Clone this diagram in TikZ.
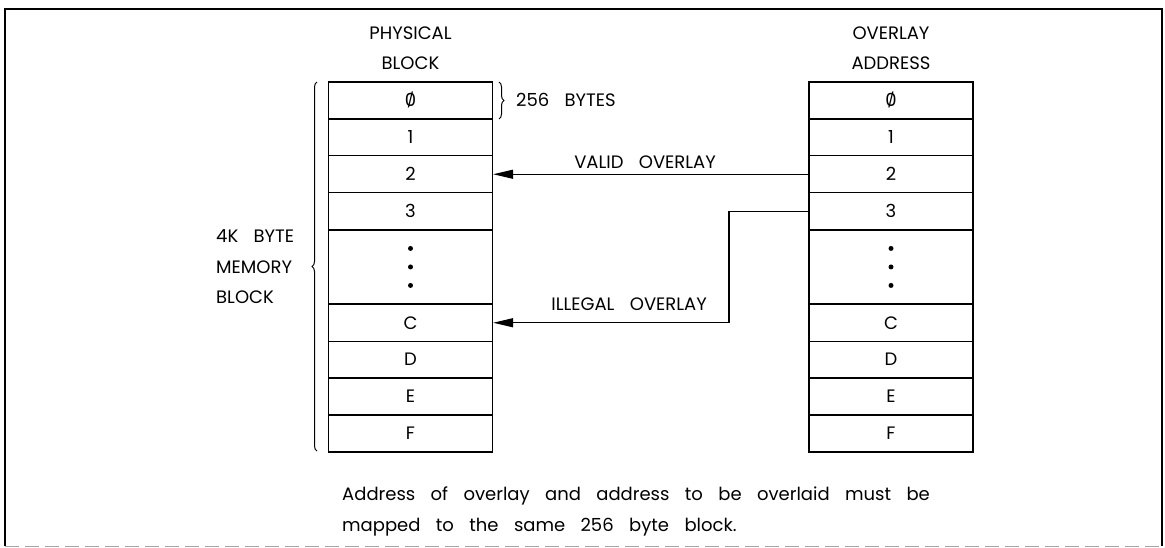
\documentclass[tikz,border=0pt]{standalone}
\usepackage{fontspec}
\setmainfont{Poppins}[WordSpace=3.2]
\usepackage{tikz}
\usetikzlibrary{positioning, arrows.meta, calc, decorations.pathreplacing}
\newcommand{\slzero}{\ooalign{0\cr\hidewidth\raisebox{0.15ex}{\scalebox{0.8}{/}}\hidewidth\cr}}

\begin{document}
\begin{tikzpicture}[x=1pt, y=-1pt,
    cell/.style={draw, line width=1.3pt, minimum width=164pt, minimum height=36.9pt,
                 inner sep=0pt, font=\fontsize{18}{20}\selectfont},
    lbl/.style={font=\fontsize{18}{30.5}\selectfont, inner sep=0pt},
    arr/.style={-{Triangle[length=20pt, width=9pt]}, line width=1.2pt},
    brc/.style={decorate, decoration={brace, amplitude=5pt}, line width=1pt},
]
\useasboundingbox (0,0) rectangle (1165,548);

% frame
\draw[line width=1.4pt] (5,546) -- (5,9) -- (1162,9) -- (1162,546);
\draw[line width=0.8pt, black!35, dash pattern=on 14pt off 6pt] (5,546) -- (1162,546);

% physical block column
\node[cell] (p0) at (410.5, 100.45) {\slzero};
\node[cell] (p1) at (410.5, 137.35) {1};
\node[cell] (p2) at (410.5, 174.25) {2};
\node[cell] (p3) at (410.5, 211.15) {3};
\node[cell, minimum height=73.8pt] (pd) at (410.5, 266.95) {};
\node[cell] (pC) at (410.5, 322.75) {C};
\node[cell] (pD) at (410.5, 359.65) {D};
\node[cell] (pE) at (410.5, 396.55) {E};
\node[cell] (pF) at (410.5, 433.45) {F};

% overlay address column
\node[cell] (o0) at (891, 100.45) {\slzero};
\node[cell] (o1) at (891, 137.35) {1};
\node[cell] (o2) at (891, 174.25) {2};
\node[cell] (o3) at (891, 211.15) {3};
\node[cell, minimum height=73.8pt] (od) at (891, 266.95) {};
\node[cell] (oC) at (891, 322.75) {C};
\node[cell] (oD) at (891, 359.65) {D};
\node[cell] (oE) at (891, 396.55) {E};
\node[cell] (oF) at (891, 433.45) {F};

\foreach \c in {pd, od} {
  \foreach \dy in {-18.5, 0, 18.5}
    \fill ($(\c.center)+(0,\dy)$) circle (2.5pt);
}

% headings
\node[lbl] (phys) at (410.5, 33) {PHYSICAL};
\node[lbl] (blk)  at (410.5, 63) {BLOCK};
\node[lbl] (ovl)  at (891, 33) {OVERLAY};
\node[lbl] (adr)  at (891, 63) {ADDRESS};

% braces
\draw[brc] (317, 451) -- (317, 82);
\draw[brc] (499, 82) -- (499, 119);
\node[lbl, anchor=west] (bytes) at (516, 100) {256 BYTES};
\node[lbl, anchor=west, align=left] (mem) at (216, 267) {4K BYTE\\MEMORY\\BLOCK};

% overlays
\draw[arr] (o2.west) -- (p2.east);
\node[lbl, anchor=east] (valid) at (716, 162.5) {VALID OVERLAY};
\coordinate (bend) at (729, 211.15);
\draw[arr] (o3.west) -- (bend) |- (pC.east);
\node[lbl, anchor=east] (illegal) at (707, 304) {ILLEGAL OVERLAY};

% note
\node[lbl, anchor=west, align=left] (note) at (342, 511.5)
  {Address of overlay and address to be overlaid must be\\
   mapped to the same 256 byte block.};
\end{tikzpicture}
\end{document}
